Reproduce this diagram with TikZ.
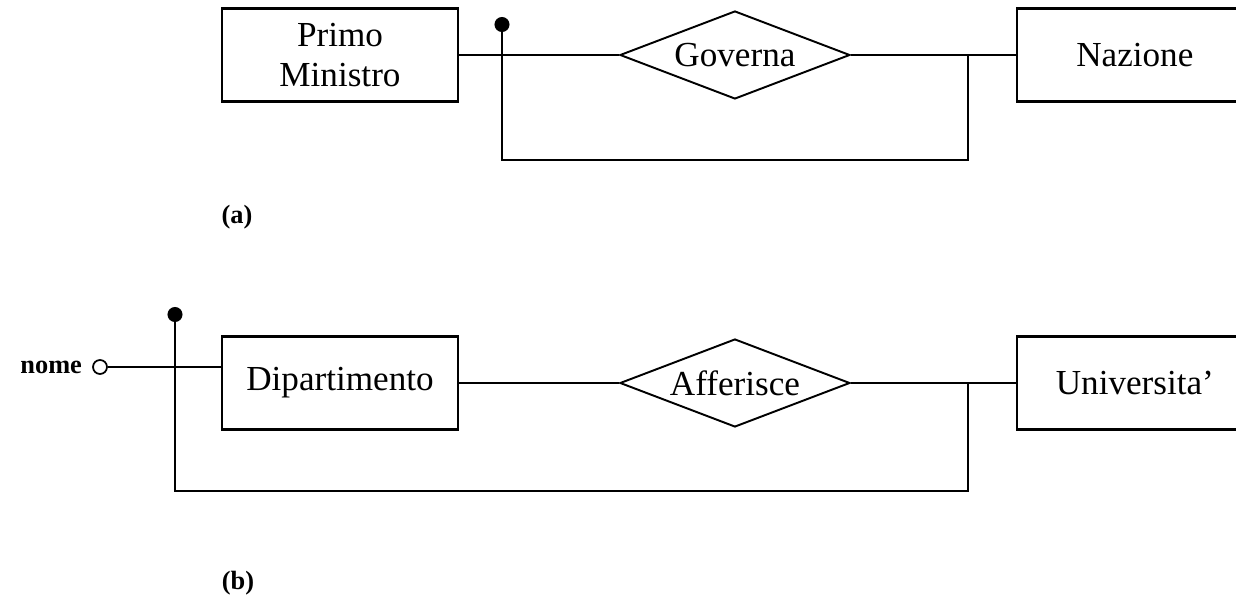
\documentclass[tikz,border=0pt]{standalone}
\usepackage{fontspec}
\setmainfont{Liberation Serif}
\usetikzlibrary{shapes.geometric,arrows.meta}

\begin{document}
\begin{tikzpicture}[x=0.02cm,y=-0.02cm]

\tikzstyle{entity}=[draw, line width=1.3pt, minimum width=4.72cm, minimum height=1.86cm, align=center, font=\fontsize{20}{23}\selectfont]
\tikzstyle{relation}=[draw, diamond, aspect=2.6, line width=1.1pt, minimum width=4.6cm, minimum height=1.76cm, inner sep=0pt, font=\fontsize{20}{23}\selectfont]
\tikzstyle{attribute}=[draw, circle, line width=1pt, minimum size=0.28cm, inner sep=0pt]
\tikzstyle{caption}=[font=\bfseries\fontsize{15}{18}\selectfont]
\tikzstyle{link}=[line width=1.3pt]
\tikzstyle{identifier}=[link, {Circle[length=0.3cm]}-]

\clip (0,0) rectangle (1236,597);

% (a)
\node [entity] (primo) at (340,55) {Primo\\Ministro};
\node [relation, right of=primo, node distance=7.9cm] (governa) {Governa};
\node [entity, right of=governa, node distance=8cm] (nazione) {Nazione};

\coordinate (id_top_a) at (502,17);
\coordinate (id_bend_a) at (968,160);
\coordinate (id_join_a) at (968,55);

\draw [link] (primo) -- (governa);
\draw [link] (governa) -- (nazione);
\draw [identifier] (id_top_a) |- (id_bend_a) -- (id_join_a);

\node [caption] (label_a) at (237,217) {(a)};

% (b)
\node [entity] (dipartimento) at (340,383) {Dipartimento};
\node [relation, right of=dipartimento, node distance=7.9cm] (afferisce) {Afferisce};
\node [entity, right of=afferisce, node distance=8cm] (universita) {Universita'};
\node [attribute, label={[caption, label distance=0.08cm]left:nome}] (nome) at (100,367) {};

\coordinate (id_top_b) at (175,307);
\coordinate (id_bend_b) at (968,491);
\coordinate (id_join_b) at (968,383);

\draw [link] (nome) -- (nome -| dipartimento.west);
\draw [link] (dipartimento) -- (afferisce);
\draw [link] (afferisce) -- (universita);
\draw [identifier] (id_top_b) |- (id_bend_b) -- (id_join_b);

\node [caption] (label_b) at (238,583) {(b)};

\end{tikzpicture}
\end{document}
